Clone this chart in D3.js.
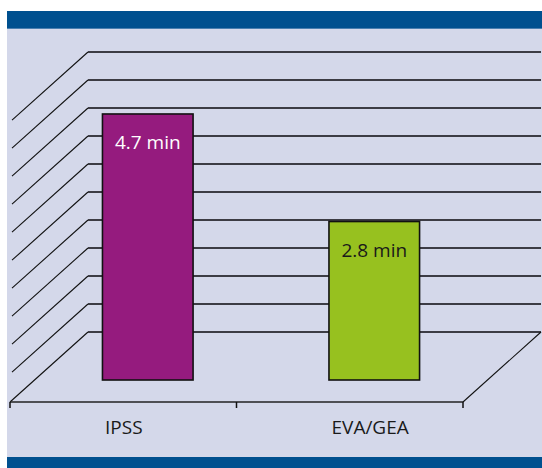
<!DOCTYPE html>
<html>
<head>
<meta charset="utf-8">
<script src="https://cdn.jsdelivr.net/npm/d3@7"></script>
<style>
  body { margin: 0; background: #fff; }
  svg { display: block; }
  text { font-family: "Open Sans", "Noto Sans", sans-serif; }
</style>
</head>
<body>
<div class="chart"></div>
<script>
// chart data
const categories = ["IPSS", "EVA/GEA"];
const values = [4.7, 2.8];
const valueLabels = ["4.7 min", "2.8 min"];
const barColors = ["#951b7e", "#97c11f"];
const labelColors = ["#ffffff", "#1a1a1a"];
const gridTicks = [0, 0.5, 1, 1.5, 2, 2.5, 3, 3.5, 4, 4.5, 5];

const width = 542, height = 468;

const svg = d3.select(".chart").append("svg")
  .attr("width", width)
  .attr("height", height);

// panel + blue bands
svg.append("rect").attr("x", 7).attr("y", 11).attr("width", width - 7).attr("height", 457).attr("fill", "#d4d8ea");
svg.append("rect").attr("x", 7).attr("y", 11).attr("width", width - 7).attr("height", 18).attr("fill", "#00508f");
svg.append("rect").attr("x", 7).attr("y", 28).attr("width", width - 7).attr("height", 1).attr("fill", "#4a7fb0");
svg.append("rect").attr("x", 7).attr("y", 457).attr("width", width - 7).attr("height", 11).attr("fill", "#00508f");

// 3d depth offset
const depthX = 78, depthY = 70;
const frontLeft = 10, frontRight = 463, floorY = 402;

const xScale = d3.scaleBand()
  .domain(categories)
  .range([frontLeft, frontRight]);

// back wall scale
const yScale = d3.scaleLinear()
  .domain([0, 5])
  .range([floorY - depthY, floorY - depthY - 280]);

const wallLeft = frontLeft + depthX;
const wallRight = frontRight + depthX;

// left wall diagonals (clipped at panel left)
svg.selectAll(".diag")
  .data(gridTicks)
  .enter()
  .append("line")
  .attr("class", "diag")
  .attr("x1", wallLeft)
  .attr("y1", d => yScale(d))
  .attr("x2", d => d === 0 ? frontLeft : 12)
  .attr("y2", d => d === 0 ? floorY : yScale(d) + (wallLeft - 12) * depthY / depthX)
  .attr("stroke", "#111")
  .attr("stroke-width", 1.1);

// back wall gridlines
svg.selectAll(".grid")
  .data(gridTicks)
  .enter()
  .append("line")
  .attr("class", "grid")
  .attr("x1", wallLeft)
  .attr("x2", wallRight)
  .attr("y1", d => yScale(d))
  .attr("y2", d => yScale(d))
  .attr("stroke", "#3c3c44")
  .attr("stroke-width", 1.8);

// floor right edge
svg.append("line")
  .attr("x1", wallRight).attr("y1", yScale(0))
  .attr("x2", frontRight).attr("y2", floorY)
  .attr("stroke", "#111").attr("stroke-width", 1.1);

// floor front line + ticks
svg.append("line")
  .attr("x1", frontLeft).attr("y1", floorY)
  .attr("x2", frontRight).attr("y2", floorY)
  .attr("stroke", "#222").attr("stroke-width", 1.5);

const tickXs = [frontLeft].concat(categories.map(c => xScale(c) + xScale.bandwidth()));
svg.selectAll(".tick")
  .data(tickXs)
  .enter()
  .append("line")
  .attr("x1", d => d).attr("x2", d => d)
  .attr("y1", floorY).attr("y2", floorY + 6)
  .attr("stroke", "#111").attr("stroke-width", 1.5);

// bars sit part way into the depth
const barDepth = 22;
const barShift = barDepth * depthX / depthY;
const barBase = floorY - barDepth;
const barW = xScale.bandwidth() * 0.4;

const yBar = d3.scaleLinear()
  .domain([0, 5])
  .range([barBase, barBase - 283]);

const bars = svg.selectAll(".bar")
  .data(categories)
  .enter()
  .append("g");

bars.append("rect")
  .attr("x", d => xScale(d) + (xScale.bandwidth() - barW) / 2 + barShift)
  .attr("y", (d, i) => yBar(values[i]))
  .attr("width", barW)
  .attr("height", (d, i) => barBase - yBar(values[i]))
  .attr("fill", (d, i) => barColors[i])
  .attr("stroke", "#111")
  .attr("stroke-width", 1.6);

bars.append("text")
  .attr("x", d => xScale(d) + xScale.bandwidth() / 2 + barShift)
  .attr("y", (d, i) => yBar(values[i]) + 35)
  .attr("text-anchor", "middle")
  .attr("font-size", 19)
  .attr("fill", (d, i) => labelColors[i])
  .text((d, i) => valueLabels[i]);

// category labels
svg.selectAll(".cat")
  .data(categories)
  .enter()
  .append("text")
  .attr("x", d => xScale(d) + 95)
  .attr("y", 434)
  .attr("text-anchor", "start")
  .attr("font-size", 19)
  .attr("fill", "#1a1a1a")
  .text(d => d);
</script>
</body>
</html>
